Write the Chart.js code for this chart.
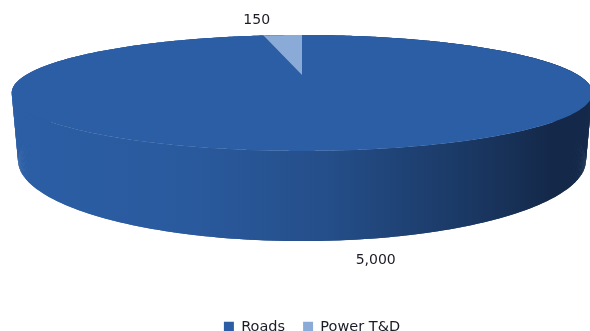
<!DOCTYPE html>
<html>
<head>
<meta charset="utf-8">
<style>
  html, body { margin: 0; padding: 0; background: #fff; overflow: hidden; }
  canvas { display: block; filter: blur(0.4px); }
</style>
<script src="https://cdn.jsdelivr.net/npm/chart.js@4"></script>
</head>
<body>
<canvas id="pie3d" width="590" height="331"></canvas>
<script>
const categories = ["Roads", "Power T&D"];
const values = [5000, 150];
const valueLabels = ["5,000", "150"];
const sliceColors = ["#2b5ea5", "#8aabd8"];

// Perspective of the two discs, fitted to the picture
const topDisc = { cx: 302, cy: 75, a: 276, b: 52.4, k: 0.31 };
const bottomDisc = { cx: 302, cy: 135, a: 270, b: 73.2, k: 0.31 };
const labelAnchors = [{ dx: 38, dy: 20 }, { dx: -26, dy: -15 }];

function project(disc, theta, r = 1) {
  const u = Math.sin(theta) * r;
  const v = -Math.cos(theta) * r;
  const w = 1 - disc.k * v;
  return { x: disc.cx + disc.a * u / w, y: disc.cy + disc.b * v / w };
}

const perspectivePie = {
  id: "perspectivePie",
  beforeDatasetsDraw(chart) {
    const ctx = chart.ctx;
    const arcs = chart.getDatasetMeta(0).data;
    const wall = ctx.createLinearGradient(12, 0, 590, 0);
    wall.addColorStop(0, "#2b5ea5");
    wall.addColorStop(0.3, "#2a5a9e");
    wall.addColorStop(0.55, "#244e89");
    wall.addColorStop(0.8, "#1a3762");
    wall.addColorStop(0.93, "#14294a");
    wall.addColorStop(1, "#14294a");

    // Side wall, swept between the two discs
    ctx.fillStyle = wall;
    arcs.forEach((arc) => {
      const start = arc.startAngle + Math.PI / 2;
      const end = arc.endAngle + Math.PI / 2;
      const steps = Math.ceil((end - start) * 120);
      for (let i = 0; i < steps; i++) {
        const t0 = start + (end - start) * i / steps;
        const t1 = start + (end - start) * Math.min(i + 2, steps) / steps;
        const a = project(topDisc, t0), b = project(topDisc, t1);
        const c = project(bottomDisc, t1), d = project(bottomDisc, t0);
        ctx.beginPath();
        ctx.moveTo(a.x, a.y);
        ctx.lineTo(b.x, b.y);
        ctx.lineTo(c.x, c.y);
        ctx.lineTo(d.x, d.y);
        ctx.closePath();
        ctx.fill();
      }
    });

    // Top face
    arcs.forEach((arc, idx) => {
      const start = arc.startAngle + Math.PI / 2;
      const end = arc.endAngle + Math.PI / 2;
      const steps = Math.ceil((end - start) * 120);
      ctx.beginPath();
      ctx.moveTo(topDisc.cx, topDisc.cy);
      for (let i = 0; i <= steps; i++) {
        const p = project(topDisc, start + (end - start) * i / steps);
        ctx.lineTo(p.x, p.y);
      }
      ctx.closePath();
      ctx.fillStyle = sliceColors[idx];
      ctx.fill();
    });

    // Value labels, placed from the middle of each slice
    ctx.font = "14px 'DejaVu Sans'";
    ctx.fillStyle = "#1c1c28";
    ctx.textAlign = "center";
    ctx.textBaseline = "middle";
    arcs.forEach((arc, idx) => {
      const mid = (arc.startAngle + arc.endAngle) / 2 + Math.PI / 2;
      const disc = idx === 0 ? bottomDisc : topDisc;
      const p = project(disc, mid);
      ctx.fillText(valueLabels[idx], p.x + labelAnchors[idx].dx, p.y + labelAnchors[idx].dy);
    });
    return false;
  },
};

new Chart(document.getElementById("pie3d").getContext("2d"), {
  type: "pie",
  data: {
    labels: categories,
    datasets: [{ data: values, backgroundColor: sliceColors, borderWidth: 0 }],
  },
  options: {
    responsive: false,
    animation: false,
    // legend sits right of centre and runs down to the window edge
    layout: { padding: { left: 34, bottom: -13 } },
    plugins: {
      tooltip: { enabled: false },
      legend: {
        position: "bottom",
        labels: {
          boxWidth: 10,
          boxHeight: 10,
          padding: 18,
          color: "#1c1c28",
          font: { family: "'DejaVu Sans'", size: 14.5 },
        },
      },
    },
  },
  plugins: [perspectivePie],
});
</script>
</body>
</html>
